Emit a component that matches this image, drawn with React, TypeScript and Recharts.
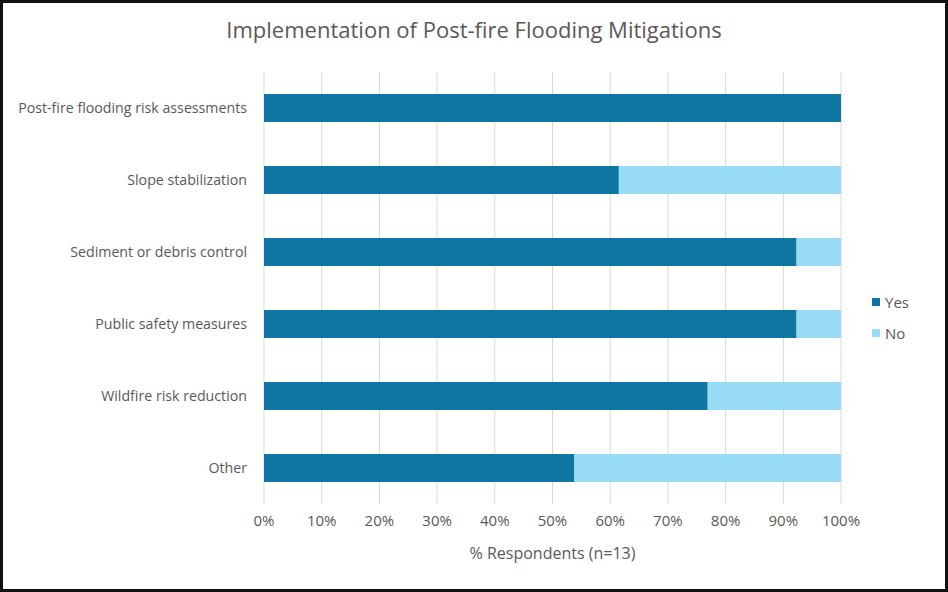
import {
  BarChart,
  Bar,
  XAxis,
  YAxis,
  CartesianGrid,
  Legend,
} from "recharts"

const categories = [
  "Post-fire flooding risk assessments",
  "Slope stabilization",
  "Sediment or debris control",
  "Public safety measures",
  "Wildfire risk reduction",
  "Other",
]
const yesPct = [100, 61.5, 92.3, 92.3, 76.9, 53.8]
const noPct = [0, 38.5, 7.7, 7.7, 23.1, 46.2]
const xTicks = [0, 10, 20, 30, 40, 50, 60, 70, 80, 90, 100]

const YES = "#0e76a0"
const NO = "#97dbf7"
const TEXT = "#595959"
const FONT = "'Open Sans', 'Noto Sans', sans-serif"

const data = categories.map((c, i) => ({
  name: c,
  Yes: yesPct[i],
  No: noPct[i],
}))

const LegendBox = () => (
  <div style={{ fontFamily: FONT, fontSize: 15, color: TEXT }}>
    {[
      { label: "Yes", color: YES },
      { label: "No", color: NO },
    ].map((it) => (
      <div
        key={it.label}
        style={{ display: "flex", alignItems: "center", height: 31 }}
      >
        <span
          style={{
            width: 8,
            height: 8,
            background: it.color,
            marginRight: 5,
            display: "inline-block",
          }}
        />
        {it.label}
      </div>
    ))}
  </div>
)

export default function App() {
  return (
    <div
      style={{
        position: "absolute",
        left: 0,
        top: 0,
        width: 948,
        height: 592,
        background: "#fff",
      }}
    >
      <div
        style={{
          position: "absolute",
          left: 0,
          top: 14,
          width: 948,
          textAlign: "center",
          fontFamily: FONT,
          fontSize: 22,
          color: TEXT,
        }}
      >
        Implementation of Post-fire Flooding Mitigations
      </div>
      <BarChart
        width={948}
        height={592}
        data={data}
        layout="vertical"
        margin={{ top: 72, right: 107, bottom: 28, left: 0 }}
        barSize={28}
      >
        <CartesianGrid horizontal={false} stroke="#d9d9d9" />
        <XAxis
          type="number"
          domain={[0, 100]}
          ticks={xTicks}
          tickFormatter={(v: number) => `${v}%`}
          axisLine={false}
          tickLine={false}
          tickSize={0}
          tickMargin={11}
          height={60}
          tick={{ fill: TEXT, fontSize: 15, fontFamily: FONT }}
          label={{
            value: "% Respondents (n=13)",
            position: "insideBottom",
            offset: 5,
            fill: TEXT,
            fontSize: 16,
            fontFamily: FONT,
          }}
        />
        <YAxis
          type="category"
          dataKey="name"
          width={264}
          axisLine={false}
          tickLine={false}
          tickSize={0}
          tickMargin={17}
          interval={0}
          tick={{ fill: TEXT, fontSize: 14.2, fontFamily: FONT }}
        />
        <Legend
          content={<LegendBox />}
          layout="vertical"
          align="center"
          verticalAlign="middle"
          wrapperStyle={{ left: 872, top: 286, width: 60 }}
        />
        <Bar dataKey="Yes" stackId="a" fill={YES} isAnimationActive={false} />
        <Bar dataKey="No" stackId="a" fill={NO} isAnimationActive={false} />
      </BarChart>
      <div
        style={{
          position: "absolute",
          left: 0,
          top: 0,
          width: 948,
          height: 592,
          boxSizing: "border-box",
          border: "3px solid #111",
          pointerEvents: "none",
        }}
      />
    </div>
  )
}
